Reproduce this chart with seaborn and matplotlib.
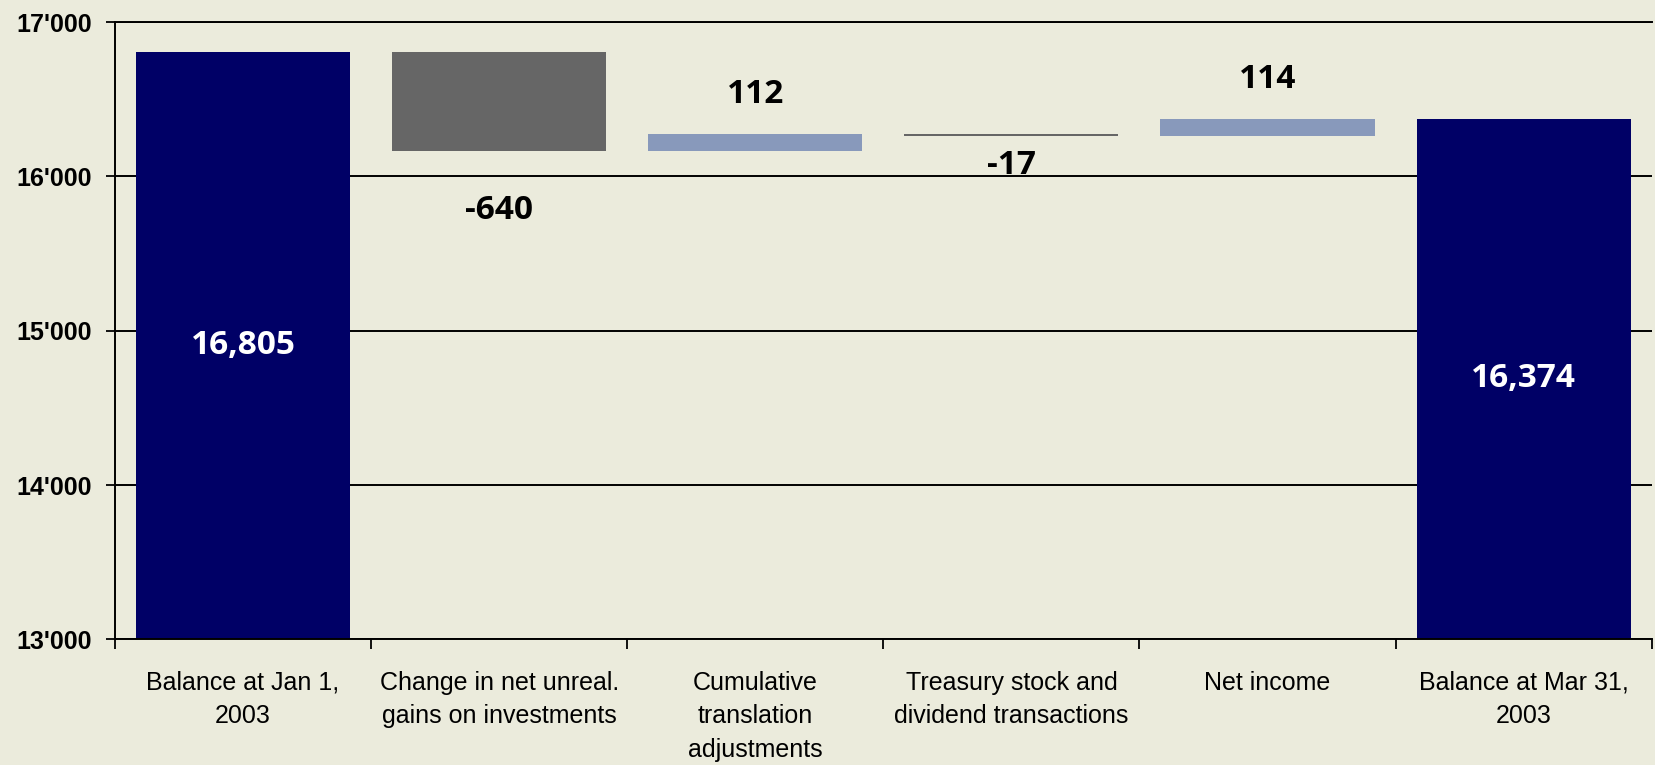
import matplotlib
matplotlib.use("Agg")
import matplotlib.pyplot as plt
import seaborn as sns
import numpy as np
from matplotlib.ticker import FuncFormatter, FixedLocator

# ==========================
# DATA
# ==========================
categorias = [
    "Balance at Jan 1,\n2003",
    "Change in net unreal.\ngains on investments",
    "Cumulative\ntranslation\nadjustments",
    "Treasury stock and\ndividend transactions",
    "Net income",
    "Balance at Mar 31,\n2003",
]
saldo_inicial = 16805
cambios = [-640, 112, -17, 114]
saldo_final = 16374

# bar heights / bottoms built from the values above
acumulado = np.cumsum([saldo_inicial] + cambios)
base_y = 13000
bases = [base_y] + list(acumulado[:-1]) + [base_y]
alturas_barra = [saldo_inicial - base_y] + cambios + [saldo_final - base_y]

# ==========================
# STYLE
# ==========================
fondo = "#EBEBDC"
azul = "#000066"
gris = "#666666"
celeste = "#8899BB"
colores = [azul] + [gris if c < 0 else celeste for c in cambios] + [azul]
# label offsets (points) for the change bars
offsets = [-43, 28, -21, 28.5]

sns.set_theme(style="white")
plt.rcParams["font.family"] = ["Liberation Sans", "DejaVu Sans"]

fig = plt.figure(figsize=(16.56, 7.65), dpi=100, facecolor=fondo)
ax = fig.add_axes([0.06944, 0.16431, 0.9974 - 0.06944, 0.97111 - 0.16431])
ax.set_facecolor(fondo)

sns.barplot(x=categorias, y=alturas_barra, bottom=bases, width=0.836,
            errorbar=None, color=azul, linewidth=0, ax=ax)
for p, c in zip(ax.patches, colores):
    p.set_facecolor(c)
    p.set_edgecolor(c)

ax.set_ylim(13000, 17000)
ax.set_xlim(-0.5, len(categorias) - 0.5)
ax.set_yticks([13000, 14000, 15000, 16000, 17000])
ax.yaxis.set_major_formatter(FuncFormatter(lambda v, _: f"{v:,.0f}".replace(",", "'")))
ax.yaxis.grid(True, color="black", linewidth=1.4)
ax.set_axisbelow(True)

for s in ["left", "bottom", "top"]:
    ax.spines[s].set_visible(True)
    ax.spines[s].set_color("black")
    ax.spines[s].set_linewidth(1.4)
ax.spines["right"].set_visible(False)

ax.tick_params(axis="y", which="major", direction="out", length=6.5, width=1.3,
               color="black", left=True, pad=10, labelsize=18, labelcolor="black")
for t in ax.get_yticklabels():
    t.set_fontweight("bold")

ax.xaxis.set_minor_locator(FixedLocator(np.arange(-0.5, len(categorias), 1.0)))
ax.tick_params(axis="x", which="minor", direction="out", length=7.2, width=1.3,
               color="black", bottom=True)
ax.tick_params(axis="x", which="major", length=0, pad=22.5, labelsize=18, labelcolor="black")
for t in ax.get_xticklabels():
    t.set_linespacing(1.5)
    t.set_verticalalignment("top")

ax.set_xlabel("")
ax.set_ylabel("")

# labels inside the balance bars
etiqueta_font = dict(family=["Open Sans", "DejaVu Sans"], fontweight="bold", fontsize=24)
for i, v in [(0, saldo_inicial), (len(categorias) - 1, saldo_final)]:
    ax.text(i, (base_y + v) / 2, f"{v:,}", ha="center", va="center",
            color="white", **etiqueta_font)

# labels for the changes
for k, c in enumerate(cambios):
    i = k + 1
    y_ref = max(bases[i], bases[i] + c) if offsets[k] > 0 else min(bases[i], bases[i] + c)
    ax.annotate(f"{c:,}", xy=(i, y_ref), xytext=(0, offsets[k]),
                textcoords="offset points", ha="center", va="center",
                color="black", **etiqueta_font)

plt.savefig("out.png", dpi=100, facecolor=fondo)
plt.close()
